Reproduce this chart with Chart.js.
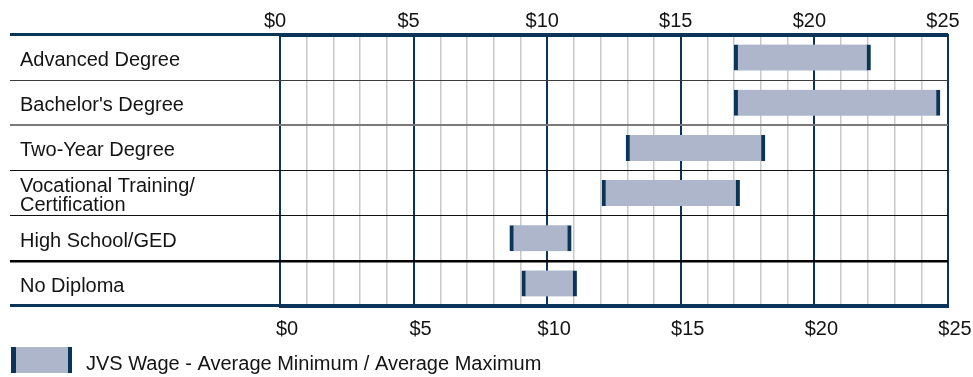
<!DOCTYPE html>
<html>
<head>
<meta charset="utf-8">
<title>JVS Wage by Education Level</title>
<script src="https://cdn.jsdelivr.net/npm/chart.js@4/dist/chart.umd.min.js"></script>
<style>
  html, body { margin: 0; padding: 0; background: #fff; }
  #wrap { width: 973px; height: 377px; }
</style>
</head>
<body>
<div id="wrap"><canvas id="wageChart"></canvas></div>
<script>
const educationLevels = [
  'Advanced Degree',
  "Bachelor's Degree",
  'Two-Year Degree',
  ['Vocational Training/', 'Certification'],
  'High School/GED',
  'No Diploma'
];
const wageMin = [17.0, 17.0, 12.95, 12.05, 8.6, 9.05];
const wageMax = [22.1, 24.7, 18.15, 17.2, 10.9, 11.1];
const wageTicks = ['$0', '$5', '$10', '$15', '$20', '$25'];
const seriesName = 'JVS Wage - Average Minimum / Average Maximum';

const NAVY = '#0b3558';
const BAR_FILL = '#adb6ca';
const MINOR_GRID = '#c8c8c8';
const TEXT = '#141414';
const FONT = "'Liberation Sans', Arial, sans-serif";
const FONT_SIZE = 20;

// horizontal rules between rows (index 0 = top edge, 6 = bottom edge)
const rowLineColor = [NAVY, '#3c3c3c', '#7a7a7a', '#111111', '#111111', '#000000', NAVY];
const rowLineWidth = [3, 1, 2, 1, 1, 2.5, 3];

function rowIndex(ctx) {
  return ctx.type === 'tick' ? ctx.index : rowLineColor.length - 1;
}

// legend swatch: grey bar with navy end caps (extra transparent room on the right)
function makeSwatch() {
  const c = document.createElement('canvas');
  c.width = 73;
  c.height = 34;
  const g = c.getContext('2d');
  g.fillStyle = BAR_FILL;
  g.fillRect(1, 0, 61, 26);
  g.fillStyle = NAVY;
  g.fillRect(1, 0, 5, 26);
  g.fillRect(58, 0, 4, 26);
  return c;
}

function xTicks(offset, pad) {
  return {
    stepSize: 1,
    autoSkip: false,
    maxRotation: 0,
    minRotation: 0,
    padding: pad,
    labelOffset: offset,
    color: TEXT,
    font: { family: FONT, size: FONT_SIZE },
    callback: v => (v % 5 === 0 ? wageTicks[v / 5] : '')
  };
}

const isMajor = ctx => ctx.tick && ctx.tick.value % 5 === 0;

new Chart(document.getElementById('wageChart'), {
  type: 'bar',
  data: {
    labels: educationLevels,
    datasets: [{
      label: seriesName,
      data: wageMin.map((v, i) => [v, wageMax[i]]),
      backgroundColor: BAR_FILL,
      borderColor: NAVY,
      borderWidth: { left: 4, right: 4, top: 0, bottom: 0 },
      borderSkipped: false,
      barThickness: 26,
      xAxisID: 'x',
      yAxisID: 'y'
    }]
  },
  options: {
    indexAxis: 'y',
    responsive: true,
    maintainAspectRatio: false,
    animation: false,
    layout: { padding: { left: 10, right: 25, top: 0, bottom: -7 } },
    plugins: {
      tooltip: { enabled: false },
      legend: {
        position: 'bottom',
        align: 'start',
        labels: {
          usePointStyle: true,
          pointStyle: makeSwatch(),
          pointStyleWidth: 59,
          padding: 7,
          color: TEXT,
          font: { family: FONT, size: FONT_SIZE }
        }
      }
    },
    scales: {
      x: {
        type: 'linear',
        position: 'bottom',
        min: 0,
        max: 25,
        grid: {
          color: ctx => (isMajor(ctx) ? NAVY : MINOR_GRID),
          lineWidth: ctx => (isMajor(ctx) ? 2 : 1.5),
          drawTicks: true,
          tickLength: 11,
          tickColor: 'transparent'
        },
        border: { color: NAVY, width: 3 },
        ticks: xTicks(7, 0),
        afterFit: s => { s.height = 41; }
      },
      x2: {
        type: 'linear',
        position: 'top',
        min: 0,
        max: 25,
        grid: { display: false, drawTicks: false },
        border: { color: NAVY, width: 3 },
        ticks: xTicks(-5, 2),
        afterFit: s => { s.height = 35; }
      },
      y: {
        type: 'category',
        position: 'left',
        offset: true,
        grid: {
          offset: true,
          drawTicks: true,
          tickLength: 270,
          color: ctx => rowLineColor[rowIndex(ctx)],
          lineWidth: ctx => rowLineWidth[rowIndex(ctx)]
        },
        border: { display: false },
        ticks: {
          crossAlign: 'far',
          autoSkip: false,
          labelOffset: 3,
          color: TEXT,
          font: { family: FONT, size: FONT_SIZE, lineHeight: 0.95 }
        },
        afterFit: s => { s.width = 260; }
      },
      // empty strip left of the row labels
      yPad: {
        type: 'linear',
        position: 'left',
        weight: 1,
        grid: { display: false, drawTicks: false },
        border: { display: false },
        ticks: { display: false },
        afterFit: s => { s.width = 10; }
      }
    }
  }
});
</script>
</body>
</html>
